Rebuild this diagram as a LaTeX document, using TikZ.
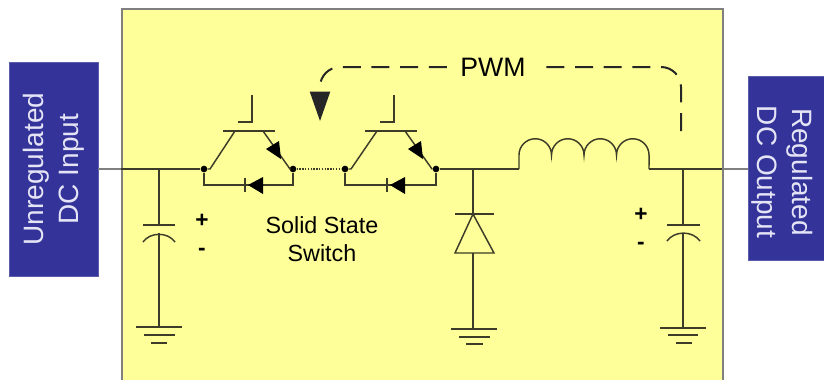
\documentclass[tikz,border=0pt]{standalone}
\usepackage{fontspec}
\setmainfont{Liberation Sans}
\usepackage{tikz}
\usetikzlibrary{arrows.meta}
\definecolor{panelfill}{HTML}{FFFF99}
\definecolor{blockfill}{HTML}{333399}
\definecolor{blocktext}{HTML}{E4E4F6}
\definecolor{wirecol}{HTML}{3C3C28}
\tikzset{
  panel/.style={shape=rectangle,draw=gray,line width=1.3pt,fill=panelfill},
  block/.style={shape=rectangle,draw=blockfill!80!white,fill=blockfill,line width=.4pt},
  blocklabel/.style={text=blocktext,align=center,font=\fontsize{21}{26}\selectfont},
  wire/.style={draw=wirecol,line width=1.1pt},
  outwire/.style={draw=gray,line width=1.1pt},
  junction/.style={shape=circle,fill=black,inner sep=0pt,minimum size=5pt},
  pwmline/.style={draw=black!85,line width=1.5pt,dash pattern=on 13.5pt off 8pt,rounded corners=15pt},
  sign/.style={font=\fontsize{17}{17}\selectfont\bfseries,inner sep=0pt}
}
\begin{document}
\begin{tikzpicture}[x=0.75pt,y=-0.75pt]
        \useasboundingbox (0,0) rectangle (824,379);

        \node[panel,minimum width=450.75pt,minimum height=285pt,anchor=north west] (P) at (121,8) {};
        \node[block,minimum width=160.5pt,minimum height=66.75pt,blocklabel,rotate=90] (IN) at (53.5,169) {Unregulated\\DC Input};
        \node[block,minimum width=70pt,minimum height=138pt] (OUT) at (795,168) {};
        \node[blocklabel,rotate=-90] (OUTL) at (782,172) {Regulated\\DC Output};

        % rail
        \coordinate (PL) at (121,169);
        \coordinate (PR) at (722,169);
        \coordinate (C1) at (159,169);
        \node[junction] (J1) at (204,169) {};
        \node[junction] (J2) at (293,169) {};
        \node[junction] (J3) at (345,169) {};
        \node[junction] (J4) at (436,169) {};
        \coordinate (D1) at (473,169);
        \coordinate (L1) at (519,169);
        \coordinate (L2) at (649,169);
        \coordinate (C2) at (683,169);

        \path [outwire](IN.south) edge (PL);
        \path [outwire](PR) edge (OUT.west |- PR);
        \path [wire](PL) edge (J1);
        \path [wire,densely dotted,line width=1.6pt](J2) edge (J3);
        \path [wire](J4) edge (L1);
        \path [wire](L2) edge (PR);

        % first switch
        \coordinate (G1a) at (252,95);
        \coordinate (G1b) at (252,122);
        \coordinate (G1c) at (238,122);
        \coordinate (B1a) at (223,131);
        \coordinate (B1b) at (275,131);
        \coordinate (K1a) at (235,131);
        \coordinate (K1b) at (210,169);
        \coordinate (E1a) at (263,131);
        \coordinate (E1b) at (290,169);
        \coordinate (F1a) at (204,185);
        \coordinate (F1b) at (293,185);
        \draw[wire] (G1a) -- (G1b) -- (G1c);
        \draw[wire] (B1a) -- (B1b);
        \draw[wire] (J1) -- (K1b) -- (K1a);
        \draw[wire] (J2) -- (E1b) -- (E1a);
        \fill[black] (279,141) -- (266,149) -- (281,159) -- cycle;
        \draw[wire] (J1) -- (F1a) -- (F1b) -- (J2);
        \fill[black] (248,185) -- (263,177) -- (263,194) -- cycle;
        \draw[wire] (245,178) -- (245,192);

        % second switch
        \coordinate (G2a) at (394,95);
        \coordinate (G2b) at (394,122);
        \coordinate (G2c) at (380,122);
        \coordinate (B2a) at (365,131);
        \coordinate (B2b) at (417,131);
        \coordinate (K2a) at (377,131);
        \coordinate (K2b) at (351,169);
        \coordinate (E2a) at (405,131);
        \coordinate (E2b) at (432,169);
        \coordinate (F2a) at (345,185);
        \coordinate (F2b) at (436,185);
        \draw[wire] (G2a) -- (G2b) -- (G2c);
        \draw[wire] (B2a) -- (B2b);
        \draw[wire] (J3) -- (K2b) -- (K2a);
        \draw[wire] (J4) -- (E2b) -- (E2a);
        \fill[black] (421,141) -- (408,149) -- (423,159) -- cycle;
        \draw[wire] (J3) -- (F2a) -- (F2b) -- (J4);
        \fill[black] (390,185) -- (405,177) -- (405,194) -- cycle;
        \draw[wire] (387,178) -- (387,192);

        % inductor
        \draw[wire] (L1) -- (519,155) arc[start angle=180,end angle=0,radius=12.19pt]
            arc[start angle=180,end angle=0,radius=12.19pt]
            arc[start angle=180,end angle=0,radius=12.19pt]
            arc[start angle=180,end angle=0,radius=12.19pt] -- (L2);

        % input capacitor
        \coordinate (C1a) at (159,225);
        \coordinate (C1b) at (159,233);
        \coordinate (GN1) at (159,327);
        \path [wire](C1) edge (C1a);
        \path [wire](C1b) edge (GN1);
        \draw[wire] (143,225) -- (175,225);
        \draw[wire] (143,242) to[bend left=55] (175,242);
        \draw[wire] (136,327) -- (182,327);
        \draw[wire] (144,335) -- (175,335);
        \draw[wire] (151,343) -- (167,343);

        % freewheel diode
        \coordinate (D1a) at (473,214);
        \coordinate (D1b) at (473,253);
        \coordinate (GN2) at (473,329);
        \path [wire](D1) edge (D1a);
        \path [wire](D1b) edge (GN2);
        \draw[wire] (455,214) -- (494,214);
        \draw[wire] (D1a) -- (494,253) -- (455,253) -- cycle;
        \draw[wire] (451,329) -- (497,329);
        \draw[wire] (459,337) -- (490,337);
        \draw[wire] (466,344) -- (483,344);

        % output capacitor
        \coordinate (C2a) at (683,225);
        \coordinate (C2b) at (683,233);
        \coordinate (GN3) at (683,328);
        \path [wire](C2) edge (C2a);
        \path [wire](C2b) edge (GN3);
        \draw[wire] (667,225) -- (700,225);
        \draw[wire] (667,241) to[bend left=55] (700,241);
        \draw[wire] (660,328) -- (706,328);
        \draw[wire] (668,335) -- (698,335);
        \draw[wire] (676,343) -- (692,343);

        % feedback
        \node[font=\fontsize{20}{20}\selectfont,inner xsep=10pt] (PWM) at (493,67) {PWM};
        \coordinate (FB) at (681,131);
        \coordinate (TIP) at (320,121);
        \draw[pwmline] (FB) |- (PWM);
        \draw[pwmline,-{Triangle[length=22pt,width=15pt]}] (PWM) -| (TIP);

        \node[font=\fontsize{17.5}{21}\selectfont,align=center] (SW) at (322,239) {Solid State\\Switch};
        \node[sign] (S1) at (202,221) {+};
        \node[sign] (S2) at (202,252) {-};
        \node[sign] (S3) at (641,215) {+};
        \node[sign] (S4) at (641,246) {-};
    \end{tikzpicture}
\end{document}
